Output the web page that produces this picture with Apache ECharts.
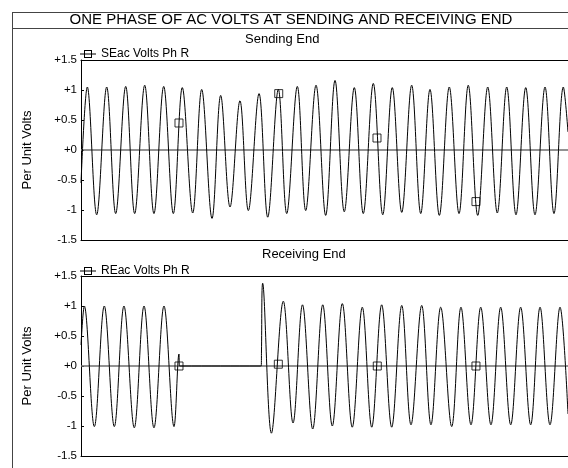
<!DOCTYPE html>
<html><head><meta charset="utf-8">
<script src="https://cdn.jsdelivr.net/npm/echarts@6/dist/echarts.min.js"></script>
<style>html,body{margin:0;padding:0;background:#fff}#c{width:568px;height:468px}</style>
</head><body><div id="c"></div><script>
const chartTitle = 'ONE PHASE OF AC VOLTS AT SENDING AND RECEIVING END';
const panelTitles = ['Sending End', 'Receiving End'];
const seriesNames = ['SEac Volts Ph R', 'REac Volts Ph R'];
const yAxisName = 'Per Unit Volts';
const yTickLabels = ['-1.5', '-1', '-0.5', '+0', '+0.5', '+1', '+1.5'];

// Sending end: time (ms) and per-unit volts at start, peaks, troughs, end
const seTime = [0, 6.5, 16.1, 26.4, 35.6, 45.9, 55.1, 65.4, 74.9, 84.9, 94.8, 104.0, 114.7, 123.9, 134.5, 143.4, 153.0, 163.2, 171.8, 182.8, 191.7, 202.6, 211.2, 222.1, 230.7, 241.3, 251.2, 260.8, 270.3, 280.6, 289.8, 300.1, 309.8, 319.6, 329.3, 339.5, 348.8, 358.3, 367.9, 378.1, 388.1, 397.6, 407.3, 417.6, 427.4, 437.1, 446.6, 456.6, 466.1, 476.4, 485.6, 495.2, 500];
const seVolts = [-0.55, 1.05, -1.08, 1.05, -1.06, 1.06, -1.06, 1.08, -1.06, 1.06, -1.06, 1.04, -1.05, 1.01, -1.14, 0.91, -0.95, 0.82, -1.01, 0.94, -1.12, 1.01, -1.06, 1.06, -1.01, 1.08, -1.09, 1.16, -1.03, 1.04, -1.06, 1.11, -1.08, 1.04, -1.04, 1.08, -1.06, 1.01, -1.09, 1.05, -1.06, 1.08, -1.09, 1.05, -1.05, 1.05, -1.08, 1.04, -1.08, 1.05, -1.06, 1.05, 0.3];
const seMarkTime = [100.6, 203.0, 303.9, 405.5];
const seMarkVolts = [0.45, 0.94, 0.2, -0.86];

// Receiving end
const reTime = [0, 3.4, 13.7, 23.9, 34.2, 44.1, 54.7, 64.7, 74.9, 85.2, 95.5, 100.6, 101.1, 102.7, 184.0, 185.0, 185.3, 186.5, 195.5, 207.7, 217.7, 227.4, 237.9, 248.2, 258.0, 268.3, 278.5, 288.8, 298.5, 308.7, 319.0, 329.3, 338.8, 349.8, 359.3, 369.3, 380.6, 390.1, 400.4, 410.4, 420.9, 430.9, 441.2, 451.4, 461.7, 471.3, 481.5, 491.8, 500];
const reVolts = [0.35, 1.0, -1.01, 1.0, -1.01, 1.0, -1.03, 1.0, -1.03, 1.0, -1.01, 0.2, 0, 0, 0, 0, 0.25, 1.38, -1.12, 1.08, -0.95, 1.02, -1.05, 1.02, -1.0, 1.04, -1.02, 0.98, -1.02, 1.02, -1.02, 1.01, -0.98, 1.01, -0.98, 0.98, -1.01, 0.98, -0.98, 0.98, -0.98, 0.98, -0.98, 0.98, -0.98, 0.98, -0.98, 0.98, -0.8];
const reMarkTime = [100.6, 202.6, 304.2, 405.5];
const reMarkVolts = [0.0, 0.03, 0.0, 0.0];

const FONT = '"Liberation Sans", Arial, sans-serif';
const pairs = (t, v) => t.map((x, i) => [x, v[i]]);
// legend glyph: line with an open square on it
const LEGEND_ICON = 'path://M0,3.5L4,3.5L4,4.5L0,4.5Z M12,3.5L16,3.5L16,4.5L12,4.5Z M4,0L12,0L12,8L4,8Z M5,1L5,7L11,7L11,1Z M5,3.5L11,3.5L11,4.5L5,4.5Z';

const chart = echarts.init(document.getElementById('c'));
const grids = [
  { left: 81, right: 0, top: 60, height: 180 },
  { left: 81, right: 0, top: 276, height: 180 }
];
const xAxes = [];
[0, 1].forEach(g => {
  ['bottom', 'top'].forEach(pos => {
    xAxes.push({
      type: 'value', gridIndex: g, min: 0, max: 500, position: pos,
      axisLine: { show: true, onZero: false, lineStyle: { color: '#000', width: 1 } },
      axisTick: { show: false }, axisLabel: { show: false }, splitLine: { show: false }
    });
  });
});
const yAxes = [0, 1].map(g => ({
  type: 'value', gridIndex: g, min: -1.5, max: 1.5, interval: 0.5,
  name: yAxisName, nameLocation: 'middle', nameGap: 47,
  nameTextStyle: { fontFamily: FONT, fontSize: 13, color: '#000' },
  axisLine: { show: true, onZero: false, lineStyle: { color: '#000', width: 1 } },
  axisTick: { show: true, inside: true, length: 3, lineStyle: { color: '#000' } },
  axisLabel: { margin: 4, fontFamily: FONT, fontSize: 11.5, color: '#000',
    formatter: (v, i) => yTickLabels[i] },
  splitLine: { show: false }
}));

function waveSeries(idx, t, v) {
  return {
    name: seriesNames[idx], type: 'line', xAxisIndex: idx * 2, yAxisIndex: idx,
    data: pairs(t, v), smooth: 0.36, symbol: 'rect', symbolSize: 8, showSymbol: false,
    color: '#000', lineStyle: { color: '#000', width: 1 }, z: 3,
    markLine: { silent: true, symbol: 'none', label: { show: false },
      lineStyle: { color: '#6e6e6e', width: 1.5, type: 'solid' }, data: [{ yAxis: 0 }], z: 2 }
  };
}
function markerSeries(idx, t, v) {
  return {
    name: seriesNames[idx] + ' markers', type: 'scatter', xAxisIndex: idx * 2, yAxisIndex: idx,
    data: pairs(t, v), symbol: 'rect', symbolSize: 8, z: 4,
    itemStyle: { color: 'rgba(255,255,255,0)', borderColor: '#000', borderWidth: 1 }
  };
}

chart.setOption({
  animation: false,
  backgroundColor: '#fff',
  title: [
    { text: chartTitle, left: 291, textAlign: 'center', top: 12, padding: 0,
      textStyle: { fontFamily: FONT, fontSize: 15, fontWeight: 'normal', color: '#000' } },
    { text: panelTitles[0], left: 245, top: 33, padding: 0,
      textStyle: { fontFamily: FONT, fontSize: 13, fontWeight: 'normal', color: '#000' } },
    { text: panelTitles[1], left: 262, top: 248, padding: 0,
      textStyle: { fontFamily: FONT, fontSize: 13, fontWeight: 'normal', color: '#000' } }
  ],
  legend: [0, 1].map(i => ({
    data: [{ name: seriesNames[i], icon: LEGEND_ICON }], left: 80, top: i === 0 ? 48 : 265, padding: 0,
    itemWidth: 16, itemHeight: 8,
    itemStyle: { color: '#000', borderWidth: 0 },
    textStyle: { fontFamily: FONT, fontSize: 12, color: '#000' }
  })),
  grid: grids,
  xAxis: xAxes,
  yAxis: yAxes,
  series: [
    waveSeries(0, seTime, seVolts), markerSeries(0, seMarkTime, seMarkVolts),
    waveSeries(1, reTime, reVolts), markerSeries(1, reMarkTime, reMarkVolts)
  ],
  graphic: [
    { type: 'line', shape: { x1: 12.5, y1: 12, x2: 12.5, y2: 468 }, style: { stroke: '#444', lineWidth: 1 } },
    { type: 'line', shape: { x1: 12, y1: 12.5, x2: 568, y2: 12.5 }, style: { stroke: '#444', lineWidth: 1 } },
    { type: 'line', shape: { x1: 12, y1: 28.5, x2: 568, y2: 28.5 }, style: { stroke: '#444', lineWidth: 1 } }
  ]
});
</script></body></html>
